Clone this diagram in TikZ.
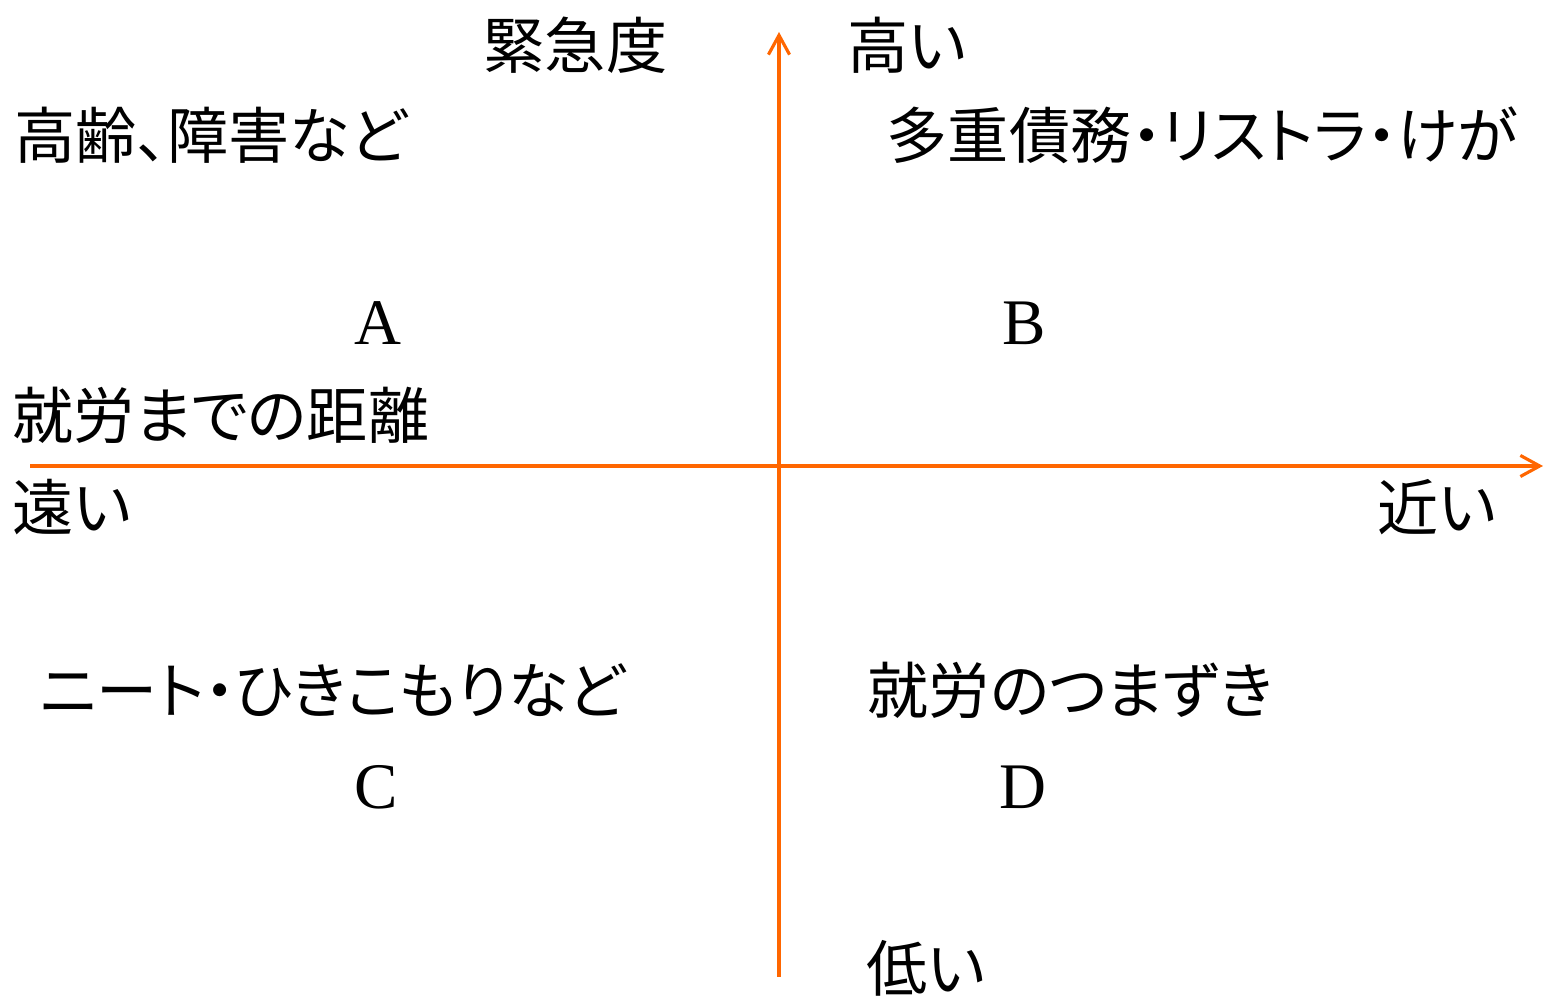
\documentclass[tikz,border=0pt]{standalone}
\usepackage{fontspec}
\setmainfont{Liberation Serif}
\newfontfamily\jpfont[RawFeature=+palt]{Noto Sans CJK JP}
\usetikzlibrary{arrows.meta}

\definecolor{axisorange}{RGB}{255,102,0}

\begin{document}
\begin{tikzpicture}[
		axis/.style={draw=axisorange, line width=0.9pt, -{Straight Barb[length=5.5pt, width=6pt, line width=0.9pt]}},
		label/.style={anchor=west, inner sep=0pt, font=\jpfont\fontsize{17.4pt}{20pt}\selectfont},
		quad/.style={inner sep=0pt, font=\fontsize{18.5pt}{20pt}\selectfont}
	]
		\useasboundingbox (0,0) rectangle (15.44,9.99);

		% Axis end points
		\coordinate (xstart) at (0.30,5.33);
		\coordinate (xend) at (15.43,5.33);
		\coordinate (ystart) at (7.79,0.22);
		\coordinate (yend) at (7.79,9.67);

		% Draw the axes
		\draw[axis] (xstart) -- (xend);
		\draw[axis] (ystart) -- (yend);

		% Axis labels
		\node[label] (urgency) at (4.83,9.54) {緊急度};
		\node[label] (high) at (8.47,9.54) {高い};
		\node[label] (low) at (8.66,0.31) {低い};
		\node[label] (distance) at (0.12,5.84) {就労までの距離};
		\node[label] (far) at (0.12,4.92) {遠い};
		\node[label] (near) at (13.77,4.92) {近い};

		% Quadrant contents
		\node[label] (elderly) at (0.14,8.64) {高齢、障害など};
		\node[label] (debt) at (8.86,8.64) {多重債務・リストラ・けが};
		\node[label] (neet) at (0.40,3.09) {ニート・ひきこもりなど};
		\node[label] (stumble) at (8.67,3.09) {就労のつまずき};

		\node[quad] (qa) at (3.78,6.76) {A};
		\node[quad] (qb) at (10.24,6.76) {B};
		\node[quad] (qc) at (3.76,2.12) {C};
		\node[quad] (qd) at (10.23,2.12) {D};

	\end{tikzpicture}
\end{document}
